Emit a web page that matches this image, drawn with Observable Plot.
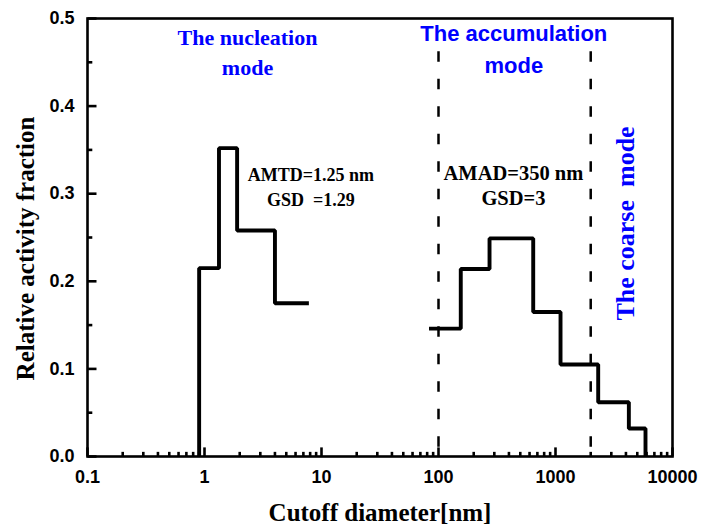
<!DOCTYPE html>
<html>
<head>
<meta charset="utf-8">
<script src="https://cdn.jsdelivr.net/npm/d3@7"></script>
<script src="https://cdn.jsdelivr.net/npm/@observablehq/plot@0.6"></script>
<style>
  html, body { margin: 0; padding: 0; background: #fff; }
  #chart svg { display: block; }
</style>
</head>
<body>
<div id="chart"></div>
<script>
// ---- data ----
const nucleationEdges = [0.9, 1.33, 1.9, 4.0, 7.8];          // cutoff diameters (nm)
const nucleationValues = [0.215, 0.352, 0.258, 0.175];       // relative activity fraction
const accumulationEdges = [83, 155, 273, 645, 1104, 2317, 4236, 5878];
const accumulationValues = [0.146, 0.214, 0.249, 0.165, 0.105, 0.062, 0.032];
const modeBoundaries = [100, 2000];

const xTicks = [0.1, 1, 10, 100, 1000, 10000];
const xTickLabels = ["0.1", "1", "10", "100", "1000", "10000"];
const yTicks = [0, 0.1, 0.2, 0.3, 0.4, 0.5];
const yTickLabels = ["0.0", "0.1", "0.2", "0.3", "0.4", "0.5"];
const yMinorTicks = [0.05, 0.15, 0.25, 0.35, 0.45];

const xTitle = "Cutoff diameter[nm]";
const yTitle = "Relative activity fraction";
const nucleationLabel = "The nucleation\nmode";
const accumulationLabel = "The accumulation\nmode";
const coarseLabel = "The coarse\u00a0 mode";
const nucleationStats = "AMTD=1.25 nm\nGSD\u00a0 =1.29";
const accumulationStats = "AMAD=350 nm\nGSD=3";

// ---- derived tables ----
const xMinorTicks = [];
for (const d of xTicks.slice(0, -1)) for (let k = 2; k <= 9; k++) xMinorTicks.push(+(d * k).toPrecision(6));

const nucleationPts = [{x: nucleationEdges[0], y: 0}];
nucleationValues.forEach((v, i) => nucleationPts.push({x: nucleationEdges[i], y: v}));
nucleationPts.push({x: nucleationEdges[nucleationEdges.length - 1], y: nucleationValues[nucleationValues.length - 1]});

const accumulationPts = accumulationValues.map((v, i) => ({x: accumulationEdges[i], y: v}));
accumulationPts.push({x: accumulationEdges[accumulationEdges.length - 1], y: 0});

// inward tick segments (lengths: y-scale ~876 px/unit, x-scale ~117 px/decade)
const xMajorLen = 0.0104, xMinorLen = 0.0053;
const yMajorEnd = 0.1 * Math.pow(10, 9 / 117), yMinorEnd = 0.1 * Math.pow(10, 4.8 / 117);
const tickSegs = [];
xTicks.forEach((t, i) => tickSegs.push({id: "xM" + i, x: t, y: 0}, {id: "xM" + i, x: t, y: xMajorLen}));
xMinorTicks.forEach((t, i) => tickSegs.push({id: "xm" + i, x: t, y: 0}, {id: "xm" + i, x: t, y: xMinorLen}));
yTicks.forEach((t, i) => tickSegs.push({id: "yM" + i, x: 0.1, y: t}, {id: "yM" + i, x: yMajorEnd, y: t}));
yMinorTicks.forEach((t, i) => tickSegs.push({id: "ym" + i, x: 0.1, y: t}, {id: "ym" + i, x: yMinorEnd, y: t}));

const serif = "Liberation Serif, Times New Roman, serif";
const sans = "Liberation Sans, Arial, sans-serif";
const blue = "#0000ff";

const chart = Plot.plot({
  width: 702,
  height: 527,
  marginLeft: 87,
  marginRight: 30,
  marginTop: 18,
  marginBottom: 71,
  x: {type: "log", domain: [0.1, 10000]},
  y: {domain: [0, 0.5]},
  marks: [
    // tick labels
    Plot.axisX(xTicks, {
      tickSize: 0, tickPadding: 14, label: null,
      tickFormat: d => xTickLabels[xTicks.indexOf(d)],
      fontSize: 18, fontFamily: sans, fontWeight: "bold"
    }),
    Plot.axisY(yTicks, {
      tickSize: 0, tickPadding: 13, label: null,
      tickFormat: d => yTickLabels[yTicks.indexOf(d)],
      fontSize: 18, fontFamily: sans, fontWeight: "bold"
    }),
    // mode boundaries
    Plot.ruleX(modeBoundaries, {x: d => d, y1: () => 0.462, y2: () => 0, strokeWidth: 2.5, strokeDasharray: "10.5,17"}),
    // distributions
    Plot.line(nucleationPts, {x: "x", y: "y", curve: "step-after", strokeWidth: 3.9, strokeLinejoin: "miter", strokeLinecap: "butt"}),
    Plot.line(accumulationPts, {x: "x", y: "y", curve: "step-after", strokeWidth: 3.9, strokeLinejoin: "miter", strokeLinecap: "butt"}),
    // annotations
    Plot.text([nucleationLabel], {x: () => 2.33, y: () => 0.4635, text: d => d, fontFamily: serif, fontWeight: "bold", fontSize: 22, fill: blue, lineHeight: 1.36}),
    Plot.text([accumulationLabel], {x: () => 440, y: () => 0.4672, text: d => d, fontFamily: sans, fontWeight: "bold", fontSize: 22, fill: blue, lineHeight: 1.45}),
    Plot.text([coarseLabel], {x: () => 4000, y: () => 0.266, text: d => d, rotate: -90, fontFamily: serif, fontWeight: "bold", fontSize: 26, fill: blue}),
    Plot.text([nucleationStats], {x: () => 8.1, y: () => 0.3098, text: d => d, fontFamily: serif, fontWeight: "bold", fontSize: 18, fill: "#000", lineHeight: 1.39}),
    Plot.text([accumulationStats], {x: () => 437, y: () => 0.3107, text: d => d, fontFamily: serif, fontWeight: "bold", fontSize: 20.5, fill: "#000", lineHeight: 1.25}),
    // axis titles
    Plot.text([xTitle], {frameAnchor: "bottom", textAnchor: "middle", lineAnchor: "middle", text: d => d, dy: 56, fontFamily: serif, fontWeight: "bold", fontSize: 25, fill: "#000"}),
    Plot.text([yTitle], {frameAnchor: "left", textAnchor: "middle", lineAnchor: "middle", text: d => d, rotate: -90, dx: -62, dy: 11, fontFamily: serif, fontWeight: "bold", fontSize: 25, fill: "#000"}),
    Plot.frame({strokeWidth: 2.6}),
    // inward ticks, drawn last
    Plot.line(tickSegs, {x: "x", y: "y", z: "id", stroke: "#000", strokeWidth: 2.6, strokeLinecap: "butt"})
  ]
});
document.getElementById("chart").appendChild(chart);
</script>
</body>
</html>
